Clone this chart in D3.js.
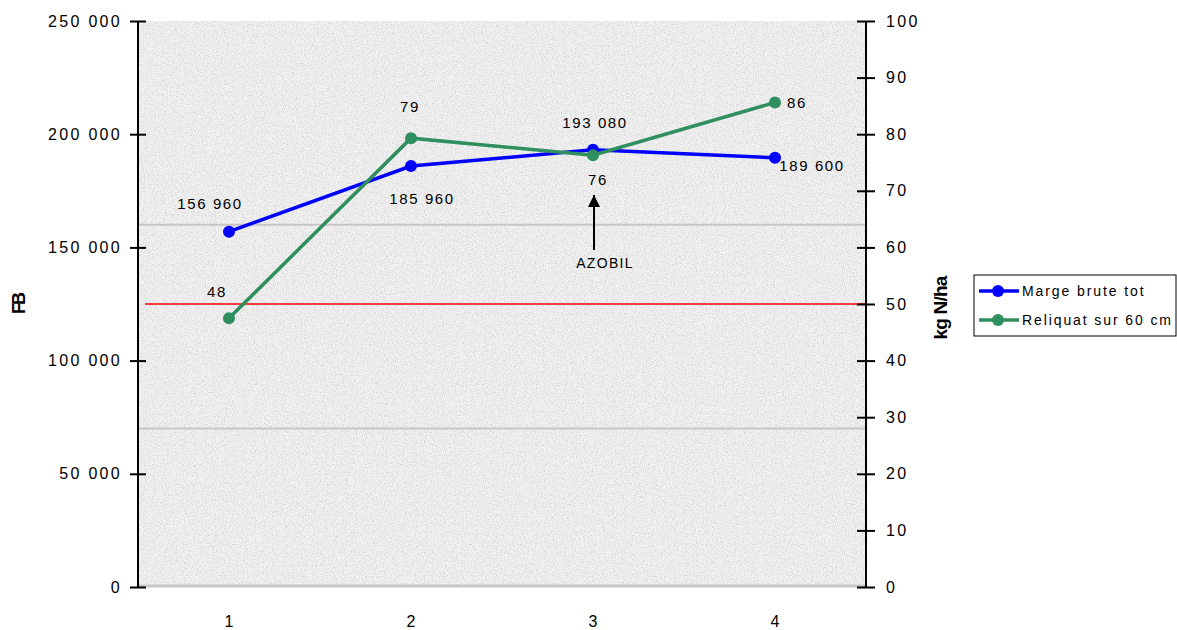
<!DOCTYPE html>
<html><head><meta charset="utf-8">
<script src="https://cdn.jsdelivr.net/npm/d3@7"></script>
<style>body{margin:0;background:#fff}svg text{font-family:"Liberation Sans",Arial,sans-serif}</style>
</head><body>
<svg id="c" width="1177" height="630"></svg>
<script>
const categories = ["1","2","3","4"];
const margeBrute = [156960, 185960, 193080, 189600];
const reliquat = [47.5, 79.3, 76.3, 85.6];
const margeLabels = ["156 960","185 960","193 080","189 600"];
const reliquatLabels = ["48","79","76","86"];
const leftTicks = [0,50000,100000,150000,200000,250000];
const rightTicks = [0,10,20,30,40,50,60,70,80,90,100];
const seuil = 50;
const bgLines = [160000, 70000];

const svg = d3.select("#c");
const L = 138, R = 866, T = 21, B = 587;
const x = d3.scaleBand().domain(categories).range([L, R]);
const xc = d => x(d) + x.bandwidth()/2;
const yL = d3.scaleLinear().domain([0,250000]).range([B,T]);
const yR = d3.scaleLinear().domain([0,100]).range([B,T]);
const fmt = v => d3.format(",")(v).replace(/,/g," ");

// texture
const defs = svg.append("defs");
const f = defs.append("filter").attr("id","noise").attr("x",0).attr("y",0).attr("width","100%").attr("height","100%");
f.append("feTurbulence").attr("type","fractalNoise").attr("baseFrequency",0.9).attr("numOctaves",3).attr("seed",4).attr("result","t");
f.append("feColorMatrix").attr("in","t").attr("type","matrix")
 .attr("values","0 0 0 0 0.6  0 0 0 0 0.6  0 0 0 0 0.6  2.2 0 0 0 -0.95");
svg.append("rect").attr("x",L).attr("y",T).attr("width",R-L).attr("height",B-T).attr("fill","#f2f2f2");
svg.append("rect").attr("x",L).attr("y",T).attr("width",R-L).attr("height",B-T).attr("filter","url(#noise)").attr("opacity",0.9);

svg.selectAll(".bgl").data(bgLines).join("line")
  .attr("x1",L).attr("x2",R).attr("y1",d=>yL(d)).attr("y2",d=>yL(d))
  .attr("stroke","#c9c5c5").attr("stroke-width",2);
svg.append("line").attr("x1",L).attr("x2",R).attr("y1",B-1).attr("y2",B-1).attr("stroke","#c9c5c5").attr("stroke-width",3);

// red threshold
svg.append("line").attr("x1",145).attr("x2",R).attr("y1",yR(seuil)).attr("y2",yR(seuil)).attr("stroke","#ff0000").attr("stroke-width",1.5);

// axes
const axL = svg.append("g").attr("transform",`translate(${L},0)`)
  .call(d3.axisLeft(yL).tickValues(leftTicks).tickFormat(fmt).tickSize(8).tickPadding(8));
axL.selectAll(".tick line").attr("x2",-8).attr("x1",8).attr("stroke","#000").attr("stroke-width",2);
const axR = svg.append("g").attr("transform",`translate(${R},0)`)
  .call(d3.axisRight(yR).tickValues(rightTicks).tickSize(8).tickPadding(12));
axR.selectAll(".tick line").attr("x2",9).attr("x1",-9).attr("stroke","#000").attr("stroke-width",2);
[axL,axR].forEach(a=>{
  a.attr("font-size",16);
  a.select(".domain").attr("stroke","#000").attr("stroke-width",2).attr("d", `M0,${T}V${B}`);
  a.selectAll(".tick text").attr("font-size",16).attr("letter-spacing",2.3).attr("fill","#000").attr("font-family","Liberation Sans, Arial, sans-serif");
});
svg.append("g").selectAll("text").data(categories).join("text")
  .attr("x",d=>xc(d)).attr("y",627).attr("text-anchor","middle").attr("font-size",16).text(d=>d);

// axis titles
svg.append("text").attr("transform","translate(25,304) rotate(-90)").attr("text-anchor","middle")
  .attr("font-size",18).attr("font-weight","bold").attr("letter-spacing",-2).text("FB");
svg.append("text").attr("transform","translate(947,308) rotate(-90)").attr("text-anchor","middle")
  .attr("font-size",19).attr("font-weight","bold").attr("letter-spacing",-0.8).text("kg N/ha");

const blue = "#0000ff", green = "#2f8f5f";
svg.append("path").datum(margeBrute).attr("fill","none").attr("stroke",blue).attr("stroke-width",3.5)
  .attr("d", d3.line().x((d,i)=>xc(categories[i])).y(d=>yL(d)));
svg.selectAll(".pb").data(margeBrute).join("circle").attr("cx",(d,i)=>xc(categories[i])).attr("cy",d=>yL(d)).attr("r",6).attr("fill",blue);
svg.append("path").datum(reliquat).attr("fill","none").attr("stroke",green).attr("stroke-width",3.5)
  .attr("d", d3.line().x((d,i)=>xc(categories[i])).y(d=>yR(d)));
svg.selectAll(".pg").data(reliquat).join("circle").attr("cx",(d,i)=>xc(categories[i])).attr("cy",d=>yR(d)).attr("r",6).attr("fill",green);

// data labels
const mOff = [[-19,-23],[11,38],[2,-22],[37,13]];
svg.selectAll(".lb").data(margeBrute).join("text")
  .attr("x",(d,i)=>xc(categories[i])+mOff[i][0]).attr("y",(d,i)=>yL(d)+mOff[i][1])
  .attr("text-anchor","middle").attr("font-size",15).attr("letter-spacing",1.6).text((d,i)=>margeLabels[i]);
const gOff = [[-12,-21],[-1,-26],[5,30],[22,5]];
svg.selectAll(".lg").data(reliquat).join("text")
  .attr("x",(d,i)=>xc(categories[i])+gOff[i][0]).attr("y",(d,i)=>yR(d)+gOff[i][1])
  .attr("text-anchor","middle").attr("font-size",15).attr("letter-spacing",1.6).text((d,i)=>reliquatLabels[i]);

// arrow annotation
defs.append("marker").attr("id","ah").attr("viewBox","0 0 10 10").attr("refX",10).attr("refY",5)
  .attr("markerWidth",6).attr("markerHeight",6).attr("orient","auto")
  .append("path").attr("d","M0,0L10,5L0,10z").attr("fill","#000");
const ax3 = xc("3")+1;
svg.append("line").attr("x1",ax3).attr("x2",ax3).attr("y1",250).attr("y2",195).attr("stroke","#000").attr("stroke-width",2).attr("marker-end","url(#ah)");
svg.append("text").attr("x",ax3+11).attr("y",268).attr("text-anchor","middle").attr("font-size",14).attr("letter-spacing",1.3).text("AZOBIL");

// legend
const lg = svg.append("g");
lg.append("rect").attr("x",974).attr("y",275).attr("width",202).attr("height",61).attr("fill","#fff").attr("stroke","#000").attr("stroke-width",1);
[["Marge brute tot",blue,291],["Reliquat sur 60 cm",green,320]].forEach(([t,c,y])=>{
  lg.append("line").attr("x1",979).attr("x2",1019).attr("y1",y).attr("y2",y).attr("stroke",c).attr("stroke-width",3.5);
  lg.append("circle").attr("cx",998).attr("cy",y).attr("r",6).attr("fill",c);
  lg.append("text").attr("x",1022).attr("y",y+5).attr("font-size",14).attr("letter-spacing",1.9).text(t);
});
</script>
</body></html>
